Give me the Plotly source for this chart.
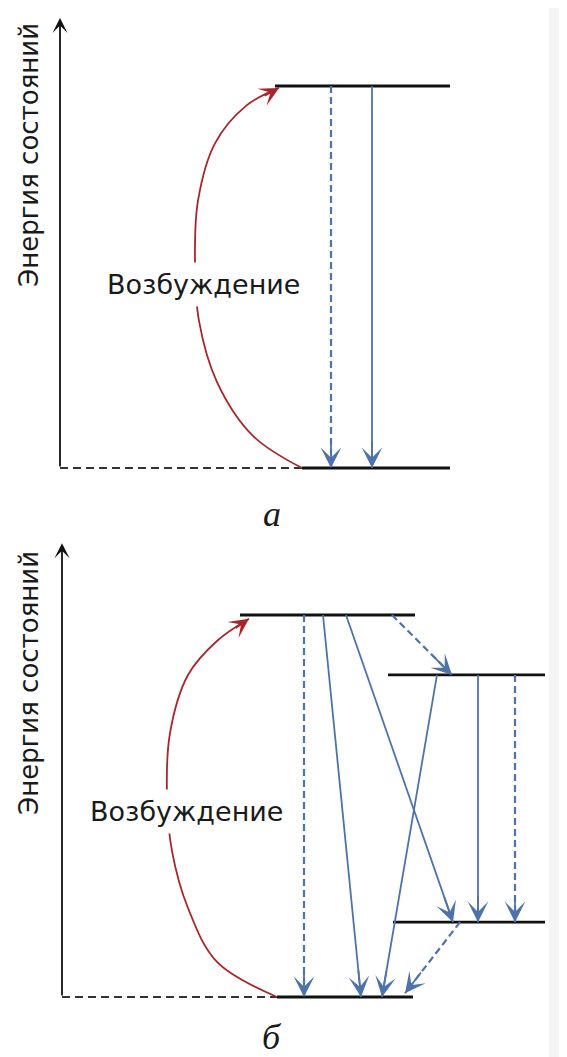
import math
import plotly.graph_objects as go

# page is 567x1057; the html body has an 8px margin, so the figure is 559x1049
PAGE_W, PAGE_H = 567, 1057
OFF = 8
W, H = PAGE_W - OFF, PAGE_H - OFF

# ---------------- Panel "а": two-level scheme ----------------
A_LEVEL_E = [0.0, 1.0]                 # ground, excited state energy (rel. units)
A_LEVEL_X0 = [302, 275]
A_LEVEL_X1 = [450, 450]
A_GROUND_DASH_X = [60, 302]
A_AXIS_X = 60
A_AXIS_TOP_E = 1.178
A_TRANS_X_FROM = [331, 372]
A_TRANS_E_FROM = [1.0, 1.0]
A_TRANS_X_TO = [331, 372]
A_TRANS_E_TO = [0.0, 0.0]
A_TRANS_KIND = ["nonrad", "rad"]
A_EXC_X = [302, 253, 217, 199, 195, 198, 215, 246, 279]
A_EXC_E = [0.0, 0.084, 0.225, 0.385, 0.537, 0.700, 0.850, 0.948, 0.995]

# ---------------- Panel "б": multi-level scheme ----------------
B_LEVEL_E = [0.0, 0.196, 0.843, 1.0]
B_LEVEL_X0 = [277, 393, 388, 240]
B_LEVEL_X1 = [413, 545, 545, 415]
B_GROUND_DASH_X = [62, 277]
B_AXIS_X = 62
B_AXIS_TOP_E = 1.188
B_TRANS_X_FROM = [304, 323, 346, 392, 437, 478, 515, 460]
B_TRANS_E_FROM = [1.0, 1.0, 1.0, 1.0, 0.843, 0.843, 0.843, 0.196]
B_TRANS_X_TO = [304, 361, 453, 452, 382, 478, 515, 405]
B_TRANS_E_TO = [0.0, 0.0, 0.196, 0.843, 0.0, 0.196, 0.196, 0.01]
B_TRANS_KIND = ["nonrad", "rad", "rad", "nonrad", "rad", "rad", "nonrad", "nonrad"]
B_EXC_X = [277, 217, 188, 172, 167, 170, 188, 217, 249]
B_EXC_E = [0.0, 0.092, 0.233, 0.382, 0.524, 0.691, 0.843, 0.932, 0.990]

AXIS_TITLE = "Энергия состояний"
EXC_LABEL = "Возбуждение"
PANEL_LABELS = ["а", "б"]

# ---------------- styling ----------------
LEVEL_COLOR = "#111111"
BLUE = "#4d73aa"
RED = "#a8262b"
GROUND_DASH = "#333333"
SANS = "DejaVu Sans, Arial, sans-serif"
SERIF = "Liberation Serif, Times New Roman, serif"

PX_PER_E = 382.0
A_BASE, B_BASE = 468, 997          # page-pixel row of each ground level
SPLIT_PX = 530                     # page row between the two panels
A_RANGE = [(A_BASE - SPLIT_PX) / PX_PER_E, (A_BASE - OFF) / PX_PER_E]
B_RANGE = [(B_BASE - PAGE_H) / PX_PER_E, (B_BASE - SPLIT_PX) / PX_PER_E]
A_DOMAIN = [1 - (SPLIT_PX - OFF) / H, 1]
B_DOMAIN = [0, 1 - (SPLIT_PX - OFF) / H]

fig = go.Figure()
annotations = []


def head(xr, yr, x0, e0, x1, e1, color, size=1.9, width=1.8, L=28):
    dx = (x1 - x0)
    dy = -(e1 - e0) * PX_PER_E
    n = math.hypot(dx, dy)
    ux, uy = dx / n, dy / n
    return dict(x=x1, y=e1, xref=xr, yref=yr, ax=-ux * L, ay=-uy * L,
                axref="pixel", ayref="pixel", showarrow=True, arrowhead=3,
                arrowsize=size, arrowwidth=width, arrowcolor=color, text="")


def panel(xr, yr, base, lev_e, lev_x0, lev_x1, dash_x, axis_x, axis_top,
          tx0, te0, tx1, te1, kinds, exc_x, exc_e, label, label_row,
          text_x, text_row, title_row):
    xa, ya = xr, yr
    row = lambda r: (base - r) / PX_PER_E
    # ground dashed line
    fig.add_trace(go.Scatter(x=dash_x, y=[lev_e[0], lev_e[0]], mode="lines",
                             xaxis=xa, yaxis=ya, hoverinfo="skip",
                             line=dict(color=GROUND_DASH, width=2.2, dash="8px,5px")))
    # energy levels
    for e, a, b in zip(lev_e, lev_x0, lev_x1):
        fig.add_trace(go.Scatter(x=[a, b], y=[e, e], mode="lines", xaxis=xa, yaxis=ya,
                                 hoverinfo="skip", line=dict(color=LEVEL_COLOR, width=2.8)))
    # transitions
    for a0, b0, a1, b1, k in zip(tx0, te0, tx1, te1, kinds):
        dash = "7px,4px" if k == "nonrad" else "solid"
        fig.add_trace(go.Scatter(x=[a0, a1], y=[b0, b1], mode="lines", xaxis=xa, yaxis=ya,
                                 hoverinfo="skip",
                                 line=dict(color=BLUE, width=2.2 if k == "nonrad" else 1.8,
                                           dash=dash)))
        annotations.append(head(xr, yr, a0, b0, a1, b1, BLUE))
    # excitation curve
    fig.add_trace(go.Scatter(x=exc_x, y=exc_e, mode="lines", xaxis=xa, yaxis=ya,
                             hoverinfo="skip",
                             line=dict(color=RED, width=1.8, shape="spline", smoothing=1.0)))
    annotations.append(head(xr, yr, exc_x[-2], exc_e[-2], exc_x[-1], exc_e[-1], RED,
                            size=1.8, width=1.8, L=18))
    # vertical energy axis
    annotations.append(dict(x=axis_x, y=axis_top, xref=xr, yref=yr, ax=axis_x, ay=lev_e[0],
                            axref=xr, ayref=yr, showarrow=True, arrowhead=3, arrowsize=1.4,
                            arrowwidth=1.8, arrowcolor=LEVEL_COLOR, text=""))
    # texts
    annotations.append(dict(x=text_x, y=row(text_row), xref=xr, yref=yr, text=EXC_LABEL,
                            showarrow=False, bgcolor="white", borderpad=6,
                            font=dict(family=SANS, size=27, color="#1a1a1a")))
    annotations.append(dict(x=29, y=row(title_row), xref=xr, yref=yr, text=AXIS_TITLE,
                            showarrow=False, textangle=-90,
                            font=dict(family=SANS, size=26, color="#1a1a1a")))
    annotations.append(dict(x=272, y=row(label_row), xref=xr, yref=yr,
                            text="<i>" + label + "</i>", showarrow=False,
                            yanchor="middle",
                            font=dict(family=SERIF, size=36, color="#1a1a1a")))


panel("x", "y", A_BASE, A_LEVEL_E, A_LEVEL_X0, A_LEVEL_X1, A_GROUND_DASH_X, A_AXIS_X,
      A_AXIS_TOP_E, A_TRANS_X_FROM, A_TRANS_E_FROM, A_TRANS_X_TO, A_TRANS_E_TO,
      A_TRANS_KIND, A_EXC_X, A_EXC_E, PANEL_LABELS[0], 514,
      203, 284, 155)
panel("x2", "y2", B_BASE, B_LEVEL_E, B_LEVEL_X0, B_LEVEL_X1, B_GROUND_DASH_X, B_AXIS_X,
      B_AXIS_TOP_E, B_TRANS_X_FROM, B_TRANS_E_FROM, B_TRANS_X_TO, B_TRANS_E_TO,
      B_TRANS_KIND, B_EXC_X, B_EXC_E, PANEL_LABELS[1], 1037,
      186, 811, 683)

hidden = dict(visible=False, showgrid=False, zeroline=False, fixedrange=True)
fig.update_layout(
    width=W, height=H, margin=dict(l=0, r=0, t=0, b=0),
    showlegend=False,
    paper_bgcolor="#f4f4f4", plot_bgcolor="rgba(0,0,0,0)",
    xaxis=dict(range=[OFF, PAGE_W], domain=[0, 1], anchor="y", **hidden),
    yaxis=dict(range=A_RANGE, domain=A_DOMAIN, anchor="x", **hidden),
    xaxis2=dict(range=[OFF, PAGE_W], domain=[0, 1], anchor="y2", **hidden),
    yaxis2=dict(range=B_RANGE, domain=B_DOMAIN, anchor="x2", **hidden),
    annotations=annotations,
    shapes=[dict(type="rect", xref="paper", yref="paper", x0=0, x1=(549 - OFF) / W,
                 y0=0, y1=1, fillcolor="white", line=dict(width=0), layer="below")],
)

fig.write_html("out.html")
